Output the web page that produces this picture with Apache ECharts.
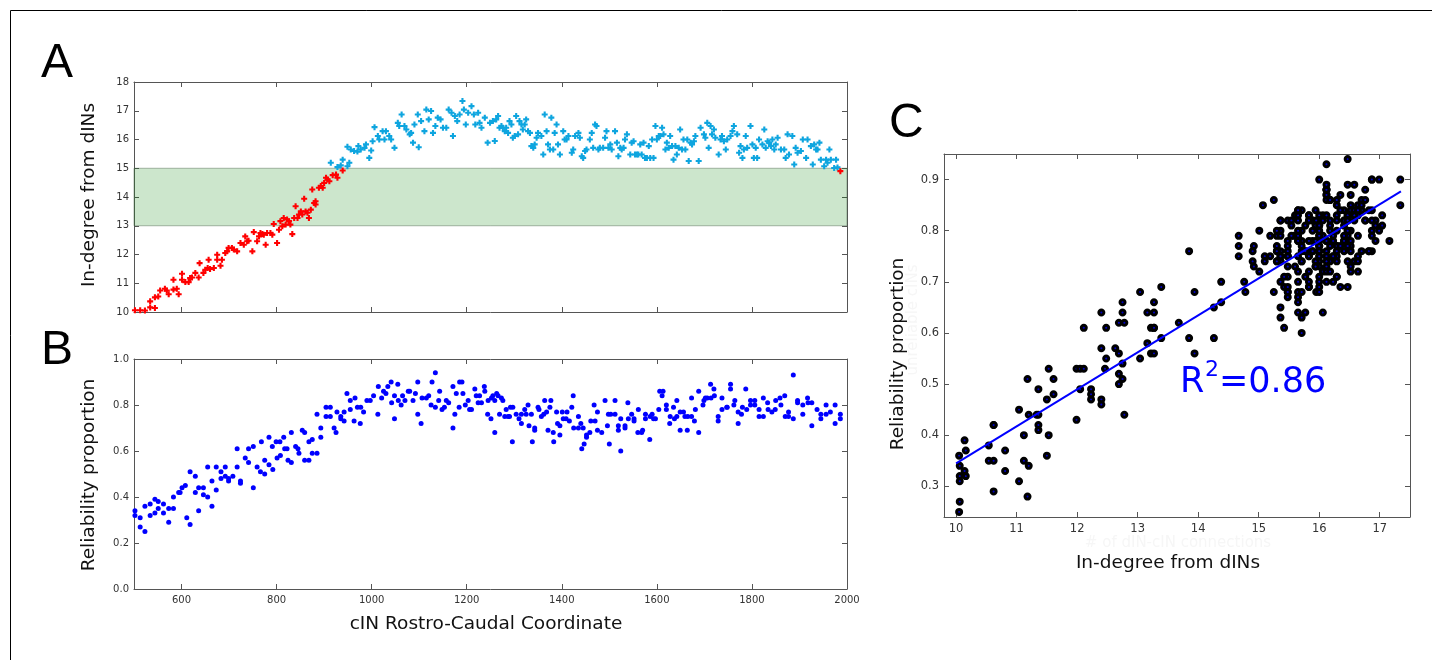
<!DOCTYPE html>
<html>
<head>
<meta charset="utf-8">
<script src="https://cdn.jsdelivr.net/npm/echarts@6/dist/echarts.min.js"></script>
<style>
html,body{margin:0;padding:0;background:#fff;}
#chart{width:1432px;height:660px;}
</style>
</head>
<body>
<div id="chart"></div>
<script>
// ---- Panel A: in-degree from dINs along the cord ----
const aCoord = [502,513,523,534,534,544,544,551,555,565,569,573,583,583,590,594,601,601,608,615,618,622,629,636,638,646,650,655,657,660,668,675,675,682,685,692,696,699,706,710,717,724,731,734,738,741,749,752,759,763,766,770,773,777,780,787,791,794,801,805,808,812,815,819,822,826,829,833,837,840,844,847,851,854,858,861,865,868,872,875,879,882,882,889,893,897,900,904,907,911,918,925,928,939,
914,928,935,939,949,953,949,956,963,970,972,977,985,988,995,999,1002,1006,1013,1016,1023,1027,1030,1037,1041,1048,1055,1058,1063,1069,1073,1080,1083,1087,1090,1097,1099,1104,1111,1115,1120,1125,1129,1134,1139,1145,1150,1157,1162,1168,1171,1175,1180,1185,1191,1194,1198,1203,1210,1215,1218,1224,1227,1231,1238,1244,1249,
1255,1259,1262,1266,1269,1273,1276,1280,1283,1287,1290,1294,1297,1301,1304,1308,1311,1315,1318,1322,1325,1329,1333,1336,1340,1343,1347,1350,1357,1361,1364,1368,1371,1375,1378,1382,1385,1389,1392,1396,1403,1406,1410,1414,1421,1424,1428,1435,1438,1442,1445,1449,1452,1459,1463,1466,1470,1473,1477,1480,1487,1491,1494,1498,1502,1505,1512,1516,1519,1523,1526,1530,1533,1537,1544,1547,1551,1554,1558,1561,1565,1568,1572,1575,1579,1583,1586,1590,1593,1597,1600,1604,1607,1611,1614,1618,1621,1625,1628,1632,1635,1639,1642,1646,1649,1653,1656,1660,1664,1667,1671,1674,1678,1681,1688,1692,1699,1702,1706,1709,1713,1716,1720,1723,1730,1734,1737,1741,1745,1748,1755,1759,1762,1769,1773,1776,1780,1783,1787,1790,1797,1801,1804,1808,1811,1815,1822,1826,1829,1833,1836,1840,1843,1847,1850,1854,1861,1868,1871,1875,1878,1885,1889,1892,1896,1903,1907,1914,1917,1924,1928,1931,1935,1938,1942,1945,1952,1956,1959,1963,1966,1973,1977,1980,1986];
const aDeg = [10.06,10.06,10.05,10.16,10.37,10.14,10.51,10.54,10.75,10.81,10.75,10.62,11.12,10.78,10.81,10.62,11.33,11.12,11.04,11.04,11.18,11.2,11.36,11.2,11.7,11.36,11.47,11.53,11.82,11.5,11.53,11.99,11.82,11.61,11.82,12.05,12.11,12.23,12.23,12.17,12.11,12.4,12.34,12.63,12.46,12.48,12.11,12.78,12.46,12.63,12.75,12.71,12.69,12.34,12.75,12.75,12.69,13.06,12.4,12.86,13.16,12.98,13.27,13.04,13.22,13.16,13.04,12.71,13.27,13.68,13.27,13.39,13.5,13.39,13.94,13.5,13.45,13.27,13.56,14.26,13.79,13.85,13.74,14.32,14.38,14.32,14.49,14.67,14.61,14.55,14.76,14.78,14.67,14.92,
15.19,15.04,15.1,15.3,15.07,15.19,15.75,15.65,15.6,15.58,15.77,15.65,15.71,15.83,15.36,15.62,15.94,16.43,16.12,16.0,16.29,16.0,16.29,16.12,16.0,15.71,16.58,16.47,16.87,16.47,16.35,16.18,16.23,15.89,16.52,16.87,15.73,16.64,16.29,17.04,16.7,16.99,16.23,16.47,16.76,16.7,16.41,16.41,17.04,16.93,16.12,16.82,16.64,16.87,17.34,17.04,16.52,16.93,17.16,16.87,16.52,16.93,16.58,16.41,16.76,15.89,16.58,
16.64,15.95,16.7,16.82,16.41,16.47,16.41,16.29,16.41,16.23,16.64,16.52,16.06,16.12,16.82,16.18,16.64,16.52,16.35,16.52,16.7,16.29,16.23,15.77,15.71,15.83,16.06,16.23,16.12,15.48,16.87,16.29,15.83,15.65,16.76,15.65,16.23,16.52,15.83,15.48,16.29,16.0,16.0,16.12,15.54,15.65,16.12,16.23,16.06,15.42,15.36,15.6,15.65,16.0,16.23,15.71,16.52,16.47,15.65,15.71,15.71,16.06,16.29,15.71,15.83,15.65,16.29,15.89,15.42,15.71,15.65,15.71,16.0,16.18,15.48,15.89,15.94,15.48,15.48,15.48,15.83,15.48,15.89,15.36,15.36,15.77,15.36,16.0,15.36,16.47,16.0,16.12,16.12,16.41,16.18,15.65,15.89,15.71,16.12,15.77,15.3,15.77,15.48,15.71,16.35,15.65,16.0,15.65,16.0,15.25,15.89,15.83,15.94,16.12,15.25,16.41,16.18,16.06,16.58,15.71,16.47,16.18,16.35,16.06,15.48,16.0,16.12,15.94,15.65,16.0,16.12,16.29,16.47,16.18,15.54,15.77,15.36,15.65,16.12,15.71,16.47,15.83,15.36,15.71,15.36,16.0,15.83,16.35,15.71,15.94,15.89,15.77,16.0,15.65,15.83,16.06,15.65,15.65,15.36,16.18,15.48,16.12,15.13,15.71,15.54,15.6,16.0,15.36,16.0,15.77,15.13,15.83,15.65,15.65,15.89,15.3,15.07,15.3,15.19,15.65,15.3,15.01,15.3,15.03,14.9];

// ---- Panel B: reliability proportion along the cord ----
const bCoord = [502,502,513,513,523,523,534,534,544,544,551,551,562,562,573,573,583,583,594,597,601,608,611,618,618,629,629,636,636,646,646,655,655,664,664,673,673,683,683,692,692,699,699,708,717,717,724,724,734,741,741,751,751,759,766,768,775,775,784,784,791,792,799,801,807,808,815,817,822,824,831,831,840,845,847,854,859,859,868,868,875,875,885,885,893,893,904,904,913,913,921,925,927,935,935,942,942,948,955,955,963,965,970,976,977,983,990,997,1004,1013,1014,1021,1025,1030,1034,1041,1042,1048,1048,1055,1056,1062,1065,1070,1077,1080,1087,1092,1097,1097,1104,1106,1115,1120,1125,1127,1134,1134,1141,1143,1148,1153,1157,1162,1171,1171,1175,1178,1184,1185,1190,1192,1197,1203,1206,1210,1217,1220,1224,1227,1231,1237,1238,1244,1245,1251,
1252,1255,1259,1259,1263,1266,1269,1273,1276,1280,1283,1287,1290,1292,1296,1297,1304,1310,1315,1315,1322,1325,1329,1331,1336,1338,1343,1343,1350,1352,1357,1362,1364,1368,1371,1375,1377,1382,1383,1389,1391,1396,1396,1401,1403,1409,1411,1416,1421,1424,1425,1435,1435,1440,1442,1445,1447,1452,1452,1459,1461,1468,1470,1475,1475,1484,1491,1496,1498,1500,1503,1512,1512,1519,1519,1524,1524,1533,1533,1539,1540,1547,1552,1552,1560,1561,1568,1570,1576,1576,1585,1586,1590,1593,1597,1604,1606,1611,1613,1620,1620,1627,1628,1635,1637,1642,1642,1649,1649,1656,1659,1664,1665,1673,1673,1679,1681,1688,1688,1697,1699,1702,1706,1713,1714,1720,1721,1729,1729,1737,1737,1747,1748,1755,1755,1762,1764,1771,1771,1778,1780,1787,1789,1797,1797,1806,1806,1815,1815,1824,1824,1833,1834,1842,1849,1850,1859,1861,1869,1870,1877,1877,1887,1887,1896,1896,1907,1907,1917,1918,1926,1926,1937,1945,1945,1956,1956,1965,1975,1975,1986,1986];
const bRel = [0.34,0.32,0.31,0.27,0.25,0.36,0.32,0.37,0.33,0.39,0.38,0.35,0.37,0.33,0.29,0.35,0.35,0.40,0.42,0.42,0.44,0.45,0.31,0.51,0.28,0.49,0.42,0.44,0.34,0.44,0.41,0.40,0.53,0.47,0.36,0.53,0.43,0.51,0.48,0.53,0.49,0.47,0.48,0.49,0.53,0.61,0.47,0.46,0.57,0.55,0.61,0.62,0.44,0.53,0.51,0.64,0.50,0.56,0.66,0.54,0.62,0.52,0.64,0.57,0.64,0.58,0.66,0.61,0.61,0.56,0.68,0.55,0.62,0.61,0.59,0.69,0.68,0.56,0.64,0.56,0.65,0.59,0.76,0.59,0.66,0.70,0.79,0.75,0.79,0.75,0.70,0.68,0.77,0.75,0.74,0.77,0.73,0.85,0.78,0.82,0.73,0.83,0.79,0.72,0.79,0.77,0.82,0.82,0.84,0.76,0.88,0.83,0.86,0.85,0.88,0.90,0.81,0.74,0.84,0.89,0.82,0.80,0.84,0.82,0.86,0.86,0.82,0.85,0.90,0.76,0.72,0.83,0.83,0.84,0.80,0.90,0.79,0.94,0.82,0.86,0.78,0.79,0.82,0.81,0.70,0.88,0.76,0.85,0.79,0.90,0.90,0.85,0.80,0.82,0.78,0.78,0.87,0.84,0.81,0.84,0.81,0.88,0.86,0.76,0.82,0.74,
0.83,0.84,0.68,0.82,0.85,0.84,0.76,0.83,0.82,0.75,0.78,0.75,0.75,0.79,0.64,0.79,0.76,0.74,0.72,0.76,0.78,0.76,0.80,0.71,0.76,0.64,0.70,0.69,0.79,0.78,0.75,0.76,0.82,0.77,0.69,0.79,0.82,0.68,0.64,0.77,0.72,0.71,0.67,0.77,0.74,0.74,0.77,0.73,0.79,0.84,0.70,0.75,0.70,0.72,0.61,0.70,0.63,0.66,0.67,0.68,0.73,0.80,0.73,0.69,0.77,0.68,0.82,0.71,0.76,0.63,0.76,0.76,0.82,0.71,0.69,0.60,0.74,0.71,0.70,0.81,0.74,0.76,0.74,0.73,0.68,0.78,0.68,0.69,0.76,0.74,0.65,0.75,0.76,0.74,0.74,0.78,0.86,0.84,0.86,0.80,0.78,0.72,0.75,0.79,0.74,0.82,0.75,0.69,0.77,0.77,0.75,0.69,0.75,0.83,0.75,0.73,0.78,0.68,0.86,0.80,0.82,0.83,0.83,0.89,0.83,0.87,0.84,0.75,0.73,0.83,0.78,0.79,0.79,0.89,0.87,0.80,0.82,0.72,0.77,0.76,0.79,0.87,0.78,0.82,0.80,0.82,0.80,0.78,0.75,0.83,0.75,0.81,0.78,0.77,0.78,0.82,0.83,0.80,0.84,0.75,0.77,0.75,0.93,0.74,0.82,0.81,0.76,0.80,0.83,0.81,0.71,0.81,0.78,0.76,0.74,0.80,0.76,0.77,0.72,0.80,0.76,0.74];

// ---- Tick labels / reference values ----
const coordTicks = [600, 800, 1000, 1200, 1400, 1600, 1800, 2000];
const degTicksC = [10, 11, 12, 13, 14, 15, 16, 17];
const relTicksC = [0.3, 0.4, 0.5, 0.6, 0.7, 0.8, 0.9];
const band = [13, 15];            // shaded in-degree band
const fitX = [10.0, 17.35];       // regression line ends
const fitY = [0.345, 0.877];
const r2Text = '=0.86';

// ---- build the library's data tables ----
const aPts = aCoord.map((c, i) => [c, aDeg[i]]);
const aLow = aPts.filter(p => p[1] < band[1]);
const aHigh = aPts.filter(p => p[1] >= band[1]);
const bPts = bCoord.map((c, i) => [c, bRel[i]]);
// panel C: each cell's reliability against the in-degree at the same position
const cPts = bCoord.map((c, i) => {
  let best = 0, bd = Infinity;
  aCoord.forEach((ac, j) => { const d = Math.abs(ac - c); if (d < bd) { bd = d; best = j; } });
  return [aDeg[best], bRel[i]];
});
const fitPts = fitX.map((x, i) => [x, fitY[i]]);

const FONT = 'DejaVu Sans';
const axisLineC = '#555';
const plusPath = 'path://M2.6,0H5.4V2.6H8V5.4H5.4V8H2.6V5.4H0V2.6H2.6Z';

const plain = v => String(v);
const f1 = v => Number(v).toFixed(1);

function xAx(grid, pos, min, max, ticks, showLabel, fs, fmt) {
  return {
    type: 'value', gridIndex: grid, position: pos, min: min, max: max,
    axisLine: { show: true, onZero: false, lineStyle: { color: axisLineC, width: 1 } },
    axisTick: { show: true, inside: true, length: 5, customValues: ticks, lineStyle: { color: axisLineC } },
    axisLabel: { show: showLabel, customValues: ticks, fontFamily: FONT, fontSize: fs || 10, color: '#333', margin: 6, formatter: fmt || plain },
    splitLine: { show: false }
  };
}
function yAx(grid, pos, min, max, ticks, showLabel, fs, fmt, interval) {
  const o = {
    type: 'value', gridIndex: grid, position: pos, min: min, max: max,
    axisLine: { show: true, onZero: false, lineStyle: { color: axisLineC, width: 1 } },
    axisTick: { show: true, inside: true, length: 5, lineStyle: { color: axisLineC } },
    axisLabel: { show: showLabel, fontFamily: FONT, fontSize: fs || 10, color: '#333', margin: 5, formatter: fmt || plain },
    splitLine: { show: false }
  };
  if (ticks) { o.axisTick.customValues = ticks; o.axisLabel.customValues = ticks; }
  if (interval) o.interval = interval;
  return o;
}

const option = {
  animation: false,
  backgroundColor: '#fff',
  grid: [
    { left: 134, top: 82, width: 713, height: 230 },
    { left: 134, top: 359, width: 713, height: 230 },
    { left: 944, top: 154, width: 466, height: 363 }
  ],
  xAxis: [
    xAx(0, 'bottom', 500, 2000, coordTicks, false),
    xAx(0, 'top', 500, 2000, coordTicks, false),
    xAx(1, 'bottom', 500, 2000, coordTicks, true, 10),
    xAx(1, 'top', 500, 2000, coordTicks, false),
    xAx(2, 'bottom', 9.8, 17.5, degTicksC, true, 11.5),
    xAx(2, 'top', 9.8, 17.5, degTicksC, false)
  ],
  yAxis: [
    yAx(0, 'left', 10, 18, null, true, 10, null, 1),
    yAx(0, 'right', 10, 18, null, false, 10, null, 1),
    yAx(1, 'left', 0, 1, null, true, 10, f1, 0.2),
    yAx(1, 'right', 0, 1, null, false, 10, f1, 0.2),
    yAx(2, 'left', 0.24, 0.95, relTicksC, true, 11.5, f1),
    yAx(2, 'right', 0.24, 0.95, relTicksC, false, 11.5, f1)
  ],
  series: [
    {
      type: 'scatter', xAxisIndex: 0, yAxisIndex: 0, data: aHigh,
      symbol: plusPath, symbolSize: 6, itemStyle: { color: '#0ea5df', opacity: 1 }, z: 3,
      markArea: {
        silent: true,
        itemStyle: { color: 'rgba(0,128,0,0.2)', borderColor: 'rgba(70,100,70,0.45)', borderWidth: 1 },
        data: [[{ yAxis: band[0] }, { yAxis: band[1] }]]
      }
    },
    {
      type: 'scatter', xAxisIndex: 0, yAxisIndex: 0, data: aLow,
      symbol: plusPath, symbolSize: 6, itemStyle: { color: '#ff0000', opacity: 1 }, z: 3
    },
    {
      type: 'scatter', xAxisIndex: 2, yAxisIndex: 2, data: bPts,
      symbol: 'circle', symbolSize: 5, itemStyle: { color: '#0000ff', opacity: 1 }
    },
    {
      type: 'scatter', xAxisIndex: 4, yAxisIndex: 4, data: cPts,
      symbol: 'circle', symbolSize: 5,
      itemStyle: { color: '#0000c0', borderColor: '#000', borderWidth: 3, opacity: 1 }
    },
    {
      type: 'line', xAxisIndex: 4, yAxisIndex: 4, data: fitPts,
      symbol: 'none', lineStyle: { color: '#0000ff', width: 2 }, z: 5
    }
  ],
  graphic: [
    { type: 'rect', shape: { x: 10.5, y: 10.5, width: 1500, height: 700 }, style: { fill: 'none', stroke: '#000', lineWidth: 1 }, silent: true },
    { type: 'text', x: 913, y: 320, rotation: Math.PI / 2, style: { text: 'unreliable cINs', font: '15px "DejaVu Sans"', fill: '#f6f6f6', align: 'center', verticalAlign: 'middle' } },
    { type: 'text', x: 1178, y: 543, style: { text: '# of dIN-cIN connections', font: '15px "DejaVu Sans"', fill: '#f6f6f6', align: 'center', verticalAlign: 'middle' } },
    { type: 'text', x: 41, y: 64, style: { text: 'A', font: '48px "Liberation Sans"', fill: '#000', verticalAlign: 'middle' } },
    { type: 'text', x: 41, y: 351, style: { text: 'B', font: '48px "Liberation Sans"', fill: '#000', verticalAlign: 'middle' } },
    { type: 'text', x: 889, y: 124, style: { text: 'C', font: '48px "Liberation Sans"', fill: '#000', verticalAlign: 'middle' } },
    { type: 'text', x: 89, y: 195, rotation: Math.PI / 2, style: { text: 'In-degree from dINs', font: '18.5px "DejaVu Sans"', fill: '#111', align: 'center', verticalAlign: 'middle' } },
    { type: 'text', x: 89, y: 475, rotation: Math.PI / 2, style: { text: 'Reliability proportion', font: '18.5px "DejaVu Sans"', fill: '#111', align: 'center', verticalAlign: 'middle' } },
    { type: 'text', x: 486, y: 624, style: { text: 'cIN Rostro-Caudal Coordinate', font: '18.5px "DejaVu Sans"', fill: '#111', align: 'center', verticalAlign: 'middle' } },
    { type: 'text', x: 898, y: 354, rotation: Math.PI / 2, style: { text: 'Reliability proportion', font: '18.5px "DejaVu Sans"', fill: '#111', align: 'center', verticalAlign: 'middle' } },
    { type: 'text', x: 1168, y: 563, style: { text: 'In-degree from dINs', font: '18.5px "DejaVu Sans"', fill: '#111', align: 'center', verticalAlign: 'middle' } },
    { type: 'text', x: 1180, y: 383, z: 10, style: { text: 'R', font: '35px "DejaVu Sans"', fill: '#0000ff', verticalAlign: 'middle' } },
    { type: 'text', x: 1205, y: 370, z: 10, style: { text: '2', font: '22px "DejaVu Sans"', fill: '#0000ff', verticalAlign: 'middle' } },
    { type: 'text', x: 1219, y: 383, z: 10, style: { text: r2Text, font: '35px "DejaVu Sans"', fill: '#0000ff', verticalAlign: 'middle' } }
  ]
};

const chart = echarts.init(document.getElementById('chart'), null, { renderer: 'canvas' });
chart.setOption(option);
</script>
</body>
</html>
